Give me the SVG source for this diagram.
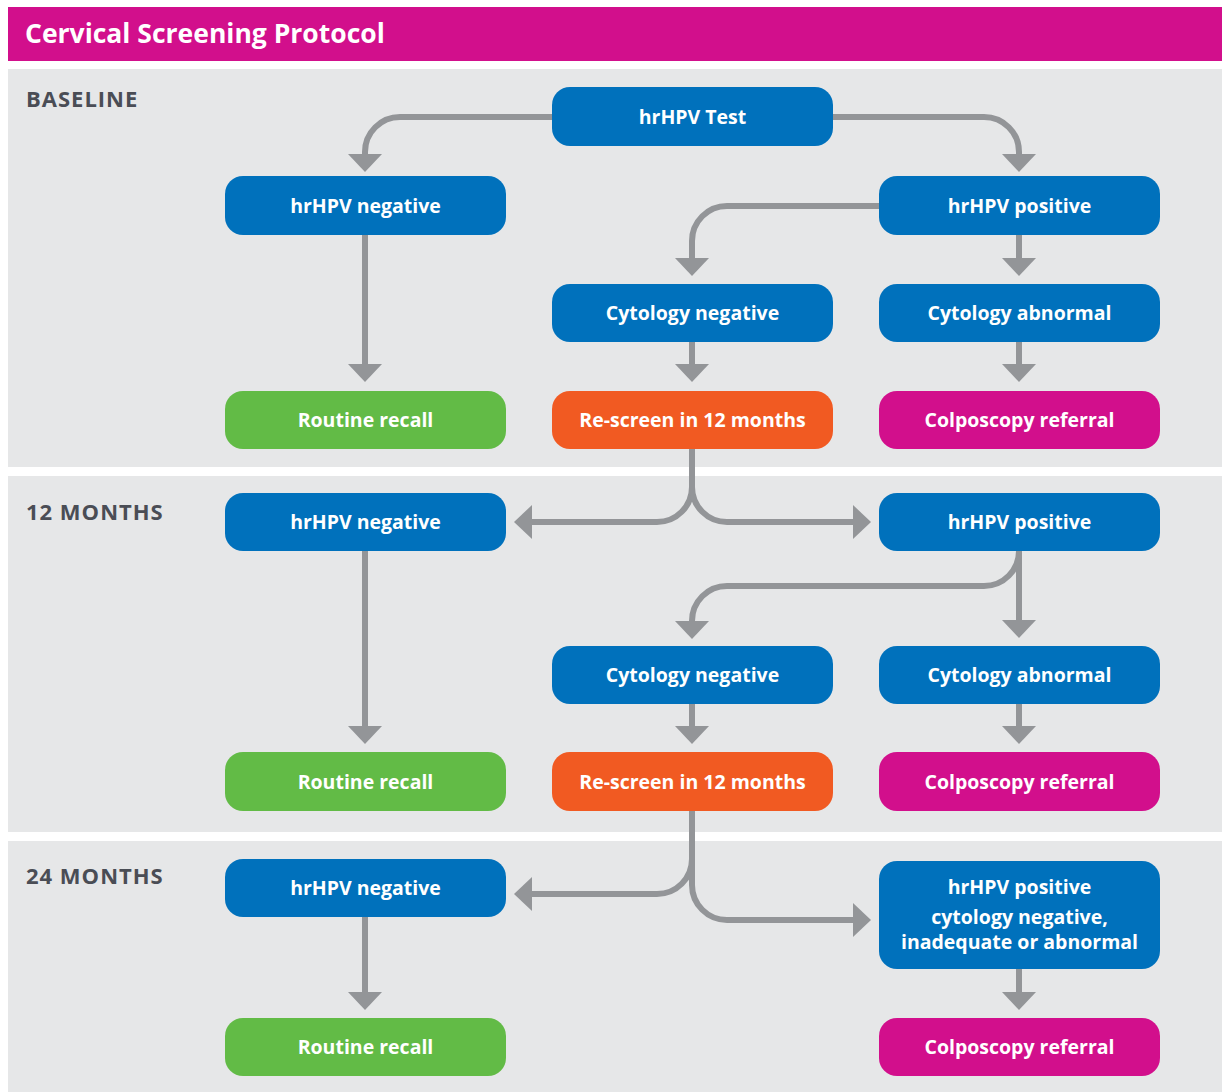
<svg xmlns="http://www.w3.org/2000/svg" width="1222" height="1092" viewBox="0 0 1222 1092">
<defs>
<style>
.panel{fill:#e6e7e8}
.node rect{stroke:none}
.blue{fill:#0071bc}
.green{fill:#62bb46}
.orange{fill:#f15a22}
.mag{fill:#d20f8c}
.nt{font-family:"Open Sans","Liberation Sans",sans-serif;font-weight:700;font-size:19.5px;fill:#fff;text-anchor:middle}
.sec{font-family:"Open Sans","Liberation Sans",sans-serif;font-weight:700;font-size:22px;letter-spacing:1px;fill:#4a4d55}
.title{font-family:"Open Sans","Liberation Sans",sans-serif;font-weight:700;font-size:26.5px;fill:#fff}
.conn path{fill:none;stroke:#939598;stroke-width:6;marker-end:url(#ah)}
</style>
<marker id="ah" viewBox="0 0 18 34" markerWidth="18" markerHeight="34" refX="0" refY="17" orient="auto" markerUnits="userSpaceOnUse">
<path d="M0,0 L18,17 L0,34 z" fill="#939598"/>
</marker>
</defs>
<rect width="1222" height="1092" fill="#fff"/>
<rect x="8" y="7" width="1214" height="54" fill="#d20f8c"/>
<text class="title" x="25" y="43">Cervical Screening Protocol</text>
<rect class="panel" x="8" y="69" width="1214" height="398"/>
<rect class="panel" x="8" y="476" width="1214" height="356"/>
<rect class="panel" x="8" y="841" width="1214" height="251"/>
<text class="sec" x="26" y="107">BASELINE</text>
<text class="sec" x="26" y="520">12 MONTHS</text>
<text class="sec" x="26" y="884">24 MONTHS</text>
<g class="conn">
<path d="M552,117 H400 A35,35 0 0 0 365,152 V154"/>
<path d="M833,117 H984 A35,35 0 0 1 1019,152 V154"/>
<path d="M879,206 H727 A35,35 0 0 0 692,241 V258"/>
<path d="M1019,235 V258"/>
<path d="M365,235 V364"/>
<path d="M692,342 V364"/>
<path d="M1019,342 V364"/>
<path d="M692,449 V487 A35,35 0 0 1 657,522 H532"/>
<path d="M692,487 A35,35 0 0 0 727,522 H853"/>
<path d="M1019,551 V620"/>
<path d="M1019,551 A35,35 0 0 1 984,586 H727 A35,35 0 0 0 692,621"/>
<path d="M365,551 V726"/>
<path d="M692,704 V726"/>
<path d="M1019,704 V726"/>
<path d="M692,811 V859 A35,35 0 0 1 657,894 H532"/>
<path d="M692,859 V885 A35,35 0 0 0 727,920 H853"/>
<path d="M365,917 V992"/>
<path d="M1019,969 V992"/>
</g>
<g id="n-test" class="node"><rect class="blue" x="552" y="87" width="281" height="59" rx="18"/><text class="nt" x="692.5" y="124">hrHPV Test</text></g>
<g id="n-neg0" class="node"><rect class="blue" x="225" y="176" width="281" height="59" rx="18"/><text class="nt" x="365.5" y="213">hrHPV negative</text></g>
<g id="n-pos0" class="node"><rect class="blue" x="879" y="176" width="281" height="59" rx="18"/><text class="nt" x="1019.5" y="213">hrHPV positive</text></g>
<g id="n-cneg0" class="node"><rect class="blue" x="552" y="284" width="281" height="58" rx="18"/><text class="nt" x="692.5" y="320">Cytology negative</text></g>
<g id="n-cabn0" class="node"><rect class="blue" x="879" y="284" width="281" height="58" rx="18"/><text class="nt" x="1019.5" y="320">Cytology abnormal</text></g>
<g id="n-rr0" class="node"><rect class="green" x="225" y="391" width="281" height="58" rx="18"/><text class="nt" x="365.5" y="427">Routine recall</text></g>
<g id="n-rs0" class="node"><rect class="orange" x="552" y="391" width="281" height="58" rx="18"/><text class="nt" x="692.5" y="427">Re-screen in 12 months</text></g>
<g id="n-col0" class="node"><rect class="mag" x="879" y="391" width="281" height="58" rx="18"/><text class="nt" x="1019.5" y="427">Colposcopy referral</text></g>
<g id="n-neg1" class="node"><rect class="blue" x="225" y="493" width="281" height="58" rx="18"/><text class="nt" x="365.5" y="529">hrHPV negative</text></g>
<g id="n-pos1" class="node"><rect class="blue" x="879" y="493" width="281" height="58" rx="18"/><text class="nt" x="1019.5" y="529">hrHPV positive</text></g>
<g id="n-cneg1" class="node"><rect class="blue" x="552" y="646" width="281" height="58" rx="18"/><text class="nt" x="692.5" y="682">Cytology negative</text></g>
<g id="n-cabn1" class="node"><rect class="blue" x="879" y="646" width="281" height="58" rx="18"/><text class="nt" x="1019.5" y="682">Cytology abnormal</text></g>
<g id="n-rr1" class="node"><rect class="green" x="225" y="752" width="281" height="59" rx="18"/><text class="nt" x="365.5" y="789">Routine recall</text></g>
<g id="n-rs1" class="node"><rect class="orange" x="552" y="752" width="281" height="59" rx="18"/><text class="nt" x="692.5" y="789">Re-screen in 12 months</text></g>
<g id="n-col1" class="node"><rect class="mag" x="879" y="752" width="281" height="59" rx="18"/><text class="nt" x="1019.5" y="789">Colposcopy referral</text></g>
<g id="n-neg2" class="node"><rect class="blue" x="225" y="859" width="281" height="58" rx="18"/><text class="nt" x="365.5" y="895">hrHPV negative</text></g>
<g id="n-pos2" class="node"><rect class="blue" x="879" y="861" width="281" height="108" rx="18"/><text class="nt" x="1019.5" y="894">hrHPV positive</text><text class="nt" x="1019.5" y="924">cytology negative,</text><text class="nt" x="1019.5" y="949">inadequate or abnormal</text></g>
<g id="n-rr2" class="node"><rect class="green" x="225" y="1018" width="281" height="58" rx="18"/><text class="nt" x="365.5" y="1054">Routine recall</text></g>
<g id="n-col2" class="node"><rect class="mag" x="879" y="1018" width="281" height="58" rx="18"/><text class="nt" x="1019.5" y="1054">Colposcopy referral</text></g>
</svg>
